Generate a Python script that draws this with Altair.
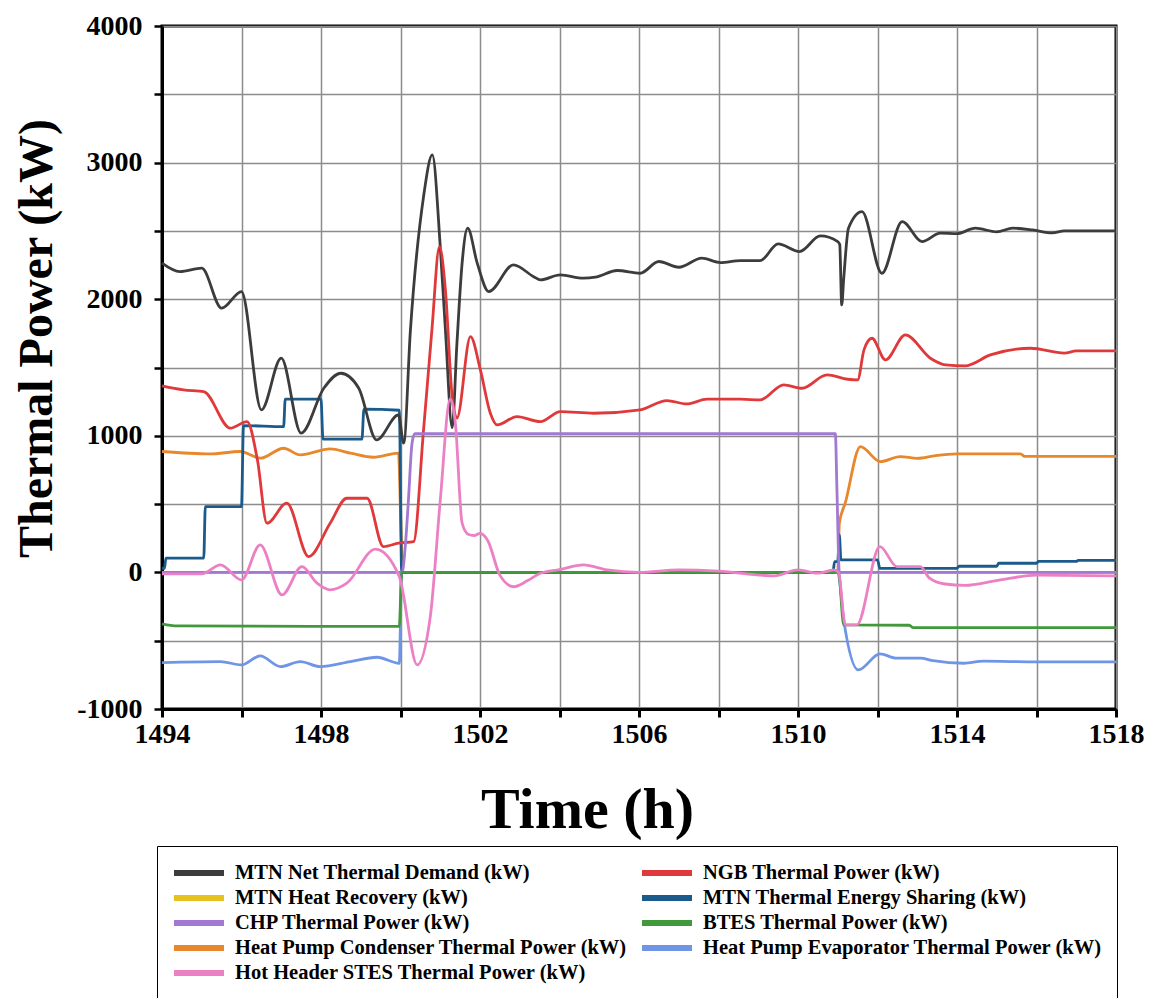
import altair as alt
import pandas as pd

# Legend order (Vega fills the 2 legend columns top-to-bottom)
SERIES = [
    "MTN Net Thermal Demand (kW)",
    "MTN Heat Recovery (kW)",
    "CHP Thermal Power (kW)",
    "Heat Pump Condenser Thermal Power (kW)",
    "Hot Header STES Thermal Power (kW)",
    "NGB Thermal Power (kW)",
    "MTN Thermal Energy Sharing (kW)",
    "BTES Thermal Power (kW)",
    "Heat Pump Evaporator Thermal Power (kW)",
]
COLORS = ["#3c3c3c", "#e6c21e", "#a278d2", "#e8872c", "#ec80c4",
          "#e0393b", "#1b5b8c", "#42983c", "#6e95e6"]

# MTN Net Thermal Demand
NET_H = [1494.0, 1494.45, 1495.0, 1495.5, 1496.0, 1496.5, 1497.0, 1497.5, 1498.07, 1498.5,
         1498.95, 1499.4, 1499.95, 1500.08, 1500.25, 1500.58, 1500.8, 1501.0, 1501.13, 1501.3,
         1501.42, 1501.55, 1501.69, 1501.93, 1502.22, 1502.84, 1503.35, 1503.52, 1504.02, 1504.6,
         1504.9, 1505.45, 1506.03, 1506.5, 1507.0, 1507.58, 1508.05, 1508.55, 1509.05, 1509.5,
         1510.04, 1510.56, 1511.0, 1511.05, 1511.1, 1511.15, 1511.27, 1511.61, 1512.11, 1512.62,
         1513.12, 1513.58, 1514.0, 1514.46, 1515.0, 1515.4, 1515.9, 1516.4, 1516.7, 1518.0]
NET_V = [2264, 2202, 2227, 1934, 2056, 1190, 1568, 1019, 1348, 1458,
         1348, 970, 1153, 946, 1775, 2751, 3056, 2385, 1775, 1060,
         1678, 2264, 2520, 2264, 2056, 2251, 2165, 2141, 2178, 2154,
         2161, 2210, 2190, 2276, 2234, 2300, 2268, 2283, 2283, 2405,
         2349, 2463, 2422, 2400, 1958, 2150, 2520, 2641, 2190, 2568,
         2422, 2483, 2480, 2520, 2493, 2520, 2507, 2485, 2500, 2500]

# NGB Thermal Power
NGB_H = [1494.0, 1494.54, 1495.05, 1495.72, 1496.14, 1496.4, 1496.64, 1497.14, 1497.69, 1498.23,
         1498.65, 1499.16, 1499.57, 1499.95, 1500.33, 1500.58, 1500.79, 1500.98, 1501.13, 1501.3,
         1501.42, 1501.76, 1502.01, 1502.26, 1502.43, 1502.93, 1503.52, 1504.02, 1504.86, 1506.03,
         1506.7, 1507.2, 1507.71, 1508.55, 1509.05, 1509.64, 1510.1, 1510.73, 1511.25, 1511.5,
         1511.66, 1511.86, 1512.2, 1512.7, 1513.33, 1513.71, 1514.2, 1514.84, 1515.85, 1516.7,
         1517.0, 1518.0]
NGB_V = [1365, 1336, 1324, 1056, 1104, 824, 360, 507, 116, 360,
         543, 543, 189, 214, 225, 1043, 1775, 2385, 2068, 1287,
         1130, 1726, 1482, 1165, 1080, 1141, 1104, 1177, 1165, 1190,
         1258, 1233, 1268, 1268, 1263, 1373, 1348, 1446, 1414, 1409,
         1629, 1714, 1556, 1739, 1568, 1519, 1512, 1592, 1641, 1605,
         1621, 1621]

# MTN Heat Recovery
HR_H = [1494.0, 1518.0]
HR_V = [0, 0]

# MTN Thermal Energy Sharing
SH_H = [1494.0, 1494.06, 1494.1, 1495.05, 1495.09, 1496.0, 1496.05, 1497.06, 1497.1, 1498.0,
        1498.05, 1499.03, 1499.08, 1499.97, 1500.03, 1510.88, 1510.92, 1511.0, 1511.04, 1511.08,
        1512.0, 1512.06, 1514.0, 1514.05, 1515.0, 1515.05, 1516.0, 1516.05, 1517.0, 1517.05,
        1518.0]
SH_V = [30, 30, 104, 104, 482, 482, 1075, 1067, 1268, 1268,
        975, 975, 1195, 1187, 0, 0, 79, 79, 275, 91,
        91, 30, 30, 45, 45, 67, 67, 80, 80, 88,
        88]

# CHP Thermal Power
CHP_H = [1494.0, 1500.04, 1500.12, 1500.2, 1500.29, 1500.36, 1510.94, 1510.98, 1511.04, 1518.0]
CHP_V = [0, 0, 189, 531, 946, 1015, 1015, 600, 0, 0]

# BTES Thermal Power
BT_H = [1494.0, 1494.38, 1499.97, 1500.03, 1511.02, 1511.15, 1512.8, 1512.9, 1518.0]
BT_V = [-377, -392, -395, 0, 0, -384, -387, -405, -405]

# Heat Pump Condenser Thermal Power
CO_H = [1494.0, 1495.2, 1495.97, 1496.47, 1497.06, 1497.48, 1498.23, 1498.74, 1499.32, 1499.95,
        1500.0, 1500.06, 1511.0, 1511.04, 1511.19, 1511.57, 1512.07, 1512.57, 1513.0, 1513.46,
        1514.0, 1515.6, 1515.7, 1518.0]
CO_V = [885, 867, 885, 836, 909, 860, 904, 873, 843, 873,
        450, 0, 0, 360, 509, 921, 811, 848, 835, 855,
        867, 867, 850, 850]

# Heat Pump Evaporator Thermal Power
EV_H = [1494.0, 1495.47, 1496.0, 1496.47, 1496.98, 1497.48, 1497.98, 1498.74, 1499.41, 1499.97,
        1500.03, 1511.0, 1511.15, 1511.52, 1512.06, 1512.49, 1513.08, 1513.4, 1514.17, 1514.67,
        1516.0, 1518.0]
EV_V = [-660, -653, -677, -611, -690, -653, -690, -653, -621, -665,
        0, 0, -348, -714, -597, -628, -628, -646, -665, -650,
        -655, -655]

# Hot Header STES Thermal Power
HH_H = [1494.0, 1495.0, 1495.47, 1496.0, 1496.47, 1497.02, 1497.52, 1497.9, 1498.23, 1498.65,
        1499.37, 1499.97, 1500.42, 1500.75, 1501.0, 1501.25, 1501.38, 1501.55, 1501.7, 1501.85,
        1502.0, 1502.2, 1502.5, 1502.85, 1503.2, 1503.52, 1504.0, 1504.6, 1505.2, 1506.0,
        1507.0, 1508.0, 1509.4, 1510.0, 1510.5, 1510.9, 1511.02, 1511.19, 1511.48, 1512.06,
        1512.49, 1513.08, 1513.3, 1513.7, 1514.2, 1515.0, 1516.0, 1518.0]
HH_V = [-11, -11, 55, -55, 201, -165, 42, -79, -128, -79,
        170, -31, -677, -323, 526, 1270, 1092, 360, 280, 270,
        285, 230, -20, -105, -60, -6, 20, 55, 18, 0,
        18, 10, -25, 18, -6, 18, 0, -384, -384, 189,
        42, 42, -40, -85, -95, -60, -20, -25]

DATA = {
    "MTN Net Thermal Demand (kW)": (NET_H, NET_V),
    "NGB Thermal Power (kW)": (NGB_H, NGB_V),
    "MTN Heat Recovery (kW)": (HR_H, HR_V),
    "MTN Thermal Energy Sharing (kW)": (SH_H, SH_V),
    "CHP Thermal Power (kW)": (CHP_H, CHP_V),
    "BTES Thermal Power (kW)": (BT_H, BT_V),
    "Heat Pump Condenser Thermal Power (kW)": (CO_H, CO_V),
    "Heat Pump Evaporator Thermal Power (kW)": (EV_H, EV_V),
    "Hot Header STES Thermal Power (kW)": (HH_H, HH_V),
}

rows = []
for name, (hs, vs) in DATA.items():
    assert len(hs) == len(vs), name
    for i, (h, v) in enumerate(zip(hs, vs)):
        rows.append({"series": name, "h": h, "v": v, "i": i})
df = pd.DataFrame(rows)

# drawing order (bottom -> top)
DRAW_ORDER = [
    "MTN Heat Recovery (kW)",
    "Heat Pump Condenser Thermal Power (kW)",
    "Heat Pump Evaporator Thermal Power (kW)",
    "MTN Thermal Energy Sharing (kW)",
    "MTN Net Thermal Demand (kW)",
    "NGB Thermal Power (kW)",
    "CHP Thermal Power (kW)",
    "BTES Thermal Power (kW)",
    "Hot Header STES Thermal Power (kW)",
]

X_TICKS = list(range(1494, 1519, 2))
Y_TICKS = list(range(-1000, 4001, 500))
FONT = "Liberation Serif"

x_axis = alt.Axis(
    values=X_TICKS,
    labelExpr="(datum.value - 1494) % 4 == 0 ? '' + datum.value : ''",
    title="Time (h)", titleFont=FONT, titleFontSize=58, titleFontWeight="bold",
    titleColor="black", titleX=425, titleY=118, titleAlign="center",
    titleBaseline="alphabetic",
    labelFont=FONT, labelFontSize=28, labelFontWeight="bold", labelColor="black",
    labelPadding=3, labelFlush=False, labelOverlap=False,
    grid=True, gridColor="#8c8c8c", gridWidth=1.5,
    domainColor="black", domainWidth=3,
    tickColor="black", tickWidth=3, tickSize=8,
)
y_axis = alt.Axis(
    values=Y_TICKS,
    labelExpr="datum.value % 1000 == 0 ? '' + datum.value : ''",
    title="Thermal Power (kW)", titleFont=FONT, titleFontSize=48, titleFontWeight="bold",
    titleColor="black", titleX=-125, titleY=312, titleAlign="center",
    titleBaseline="middle", titleAngle=270,
    labelFont=FONT, labelFontSize=28, labelFontWeight="bold", labelColor="black",
    labelPadding=12, labelFlush=False, labelOverlap=False,
    grid=True, gridColor="#8c8c8c", gridWidth=1.5,
    domainColor="black", domainWidth=3,
    tickColor="black", tickWidth=2.5, tickSize=8,
)

color = alt.Color(
    "series:N",
    scale=alt.Scale(domain=SERIES, range=COLORS),
    legend=alt.Legend(
        title=None, orient="none", legendX=-5, legendY=820,
        columns=2, columnPadding=2, rowPadding=0,
        symbolType="M-1,0H4", symbolSize=400, symbolStrokeWidth=6,
        labelFont=FONT, labelFontSize=20.5, labelFontWeight="bold",
        labelColor="black", labelLimit=600, labelOffset=38,
        padding=14, strokeColor="black", fillColor="white",
    ),
)


def layer(name):
    return (
        alt.Chart(df)
        .transform_filter(alt.datum.series == name)
        .mark_line(strokeWidth=2.8, interpolate="monotone")
        .encode(
            x=alt.X("h:Q", scale=alt.Scale(domain=[1494, 1518], nice=False, zero=False), axis=x_axis),
            y=alt.Y("v:Q", scale=alt.Scale(domain=[-1000, 4000], nice=False), axis=y_axis),
            color=color,
            order=alt.Order("i:Q"),
        )
    )


chart = (
    alt.layer(*[layer(n) for n in DRAW_ORDER])
    .properties(
        width=954, height=683,
        autosize=alt.AutoSizeParams(type="none"),
        padding={"left": 154, "top": 18, "right": 30, "bottom": 300},
        background="white",
    )
    .configure_view(stroke="black", strokeWidth=3)
)

chart.save("out.html", embed_options={"renderer": "svg", "actions": False})
